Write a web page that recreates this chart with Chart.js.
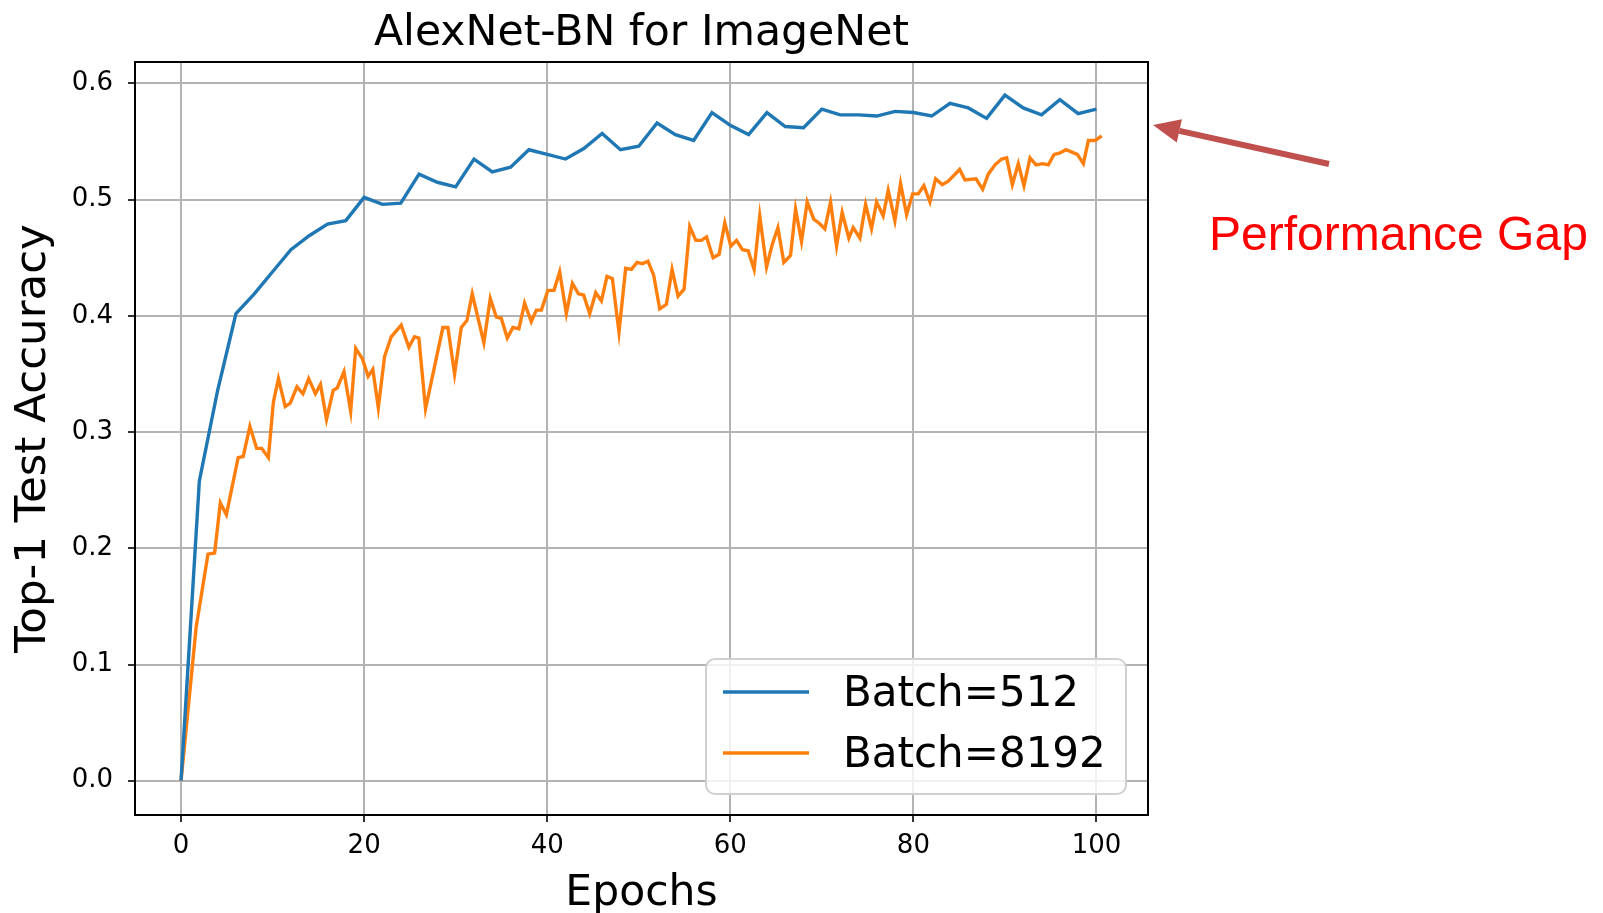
<!DOCTYPE html>
<html>
<head>
<meta charset="utf-8">
<title>AlexNet-BN for ImageNet</title>
<script src="https://cdn.jsdelivr.net/npm/chart.js@4.4.1/dist/chart.umd.min.js"></script>
<style>
  html, body { margin: 0; padding: 0; background: #ffffff; }
  #wrap { width: 1603px; height: 913px; position: relative; }
</style>
</head>
<body>
<div id="wrap"><canvas id="chart" width="1603" height="913"></canvas></div>
<script>
// Top-1 test accuracy, Batch=512 (evaluated every 2 epochs)
const blueEpochs = [0, 2, 4, 6, 8, 10, 12, 14, 16, 18,
  20, 22, 24, 26, 28, 30, 32, 34, 36, 38,
  40, 42, 44, 46, 48, 50, 52, 54, 56, 58,
  60, 62, 64, 66, 68, 70, 72, 74, 76, 78,
  80, 82, 84, 86, 88, 90, 92, 94, 96, 98, 100];
const blueAcc = [0.000, 0.258, 0.336, 0.402, 0.419, 0.438, 0.457, 0.469, 0.479, 0.482,
  0.502, 0.496, 0.497, 0.522, 0.515, 0.511, 0.535, 0.524, 0.528, 0.543,
  0.539, 0.535, 0.544, 0.557, 0.543, 0.546, 0.566, 0.556, 0.551, 0.575,
  0.564, 0.556, 0.575, 0.563, 0.562, 0.578, 0.573, 0.573, 0.572, 0.576,
  0.575, 0.572, 0.583, 0.579, 0.570, 0.590, 0.579, 0.573, 0.586, 0.574, 0.578];

// Top-1 test accuracy, Batch=8192
const orangeEpochs = [0, 1.65, 2.94, 3.67, 4.29, 4.95, 6.24, 6.79, 7.52, 8.26,
  8.81, 9.54, 10.09, 10.64, 11.38, 11.93, 12.66, 13.32, 13.94, 14.68,
  15.23, 15.89, 16.62, 17.06, 17.8, 18.53, 19.08, 19.82, 20.44, 20.95,
  21.55, 22.23, 22.96, 24.05, 24.89, 25.5, 25.98, 26.71, 28.6, 29.15,
  29.88, 30.61, 31.23, 31.81, 33.08, 33.78, 34.44, 34.98, 35.64, 36.25,
  36.91, 37.53, 38.26, 38.81, 39.36, 40.08, 40.74, 41.36, 42.09, 42.75,
  43.42, 43.98, 44.64, 45.3, 45.92, 46.53, 47.12, 47.84, 48.57, 49.2,
  49.81, 50.4, 51.01, 51.63, 52.29, 53.02, 53.64, 54.29, 54.95, 55.57,
  56.23, 56.85, 57.4, 58.12, 58.78, 59.4, 60.06, 60.68, 61.33, 61.95,
  62.6, 63.22, 63.96, 64.6, 65.2, 65.85, 66.58, 67.13, 67.78, 68.4,
  69.13, 69.68, 70.33, 70.95, 71.61, 72.22, 72.95, 73.42, 74.16, 74.78,
  75.43, 75.98, 76.7, 77.25, 77.98, 78.6, 79.26, 79.92, 80.53, 81.15,
  81.81, 82.43, 83.16, 83.81, 85.05, 85.64, 86.84, 87.57, 88.18, 88.92,
  89.65, 90.19, 90.81, 91.46, 92.08, 92.74, 93.4, 94.13, 94.74, 95.37,
  95.95, 96.68, 97.3, 97.91, 98.57, 99.12, 99.85, 100.58];
const orangeAcc = [0.000, 0.132, 0.195, 0.196, 0.239, 0.229, 0.278, 0.279, 0.305, 0.286,
  0.286, 0.278, 0.326, 0.346, 0.322, 0.325, 0.339, 0.333, 0.346, 0.333,
  0.341, 0.311, 0.336, 0.338, 0.352, 0.318, 0.372, 0.363, 0.348, 0.354,
  0.321, 0.365, 0.382, 0.392, 0.373, 0.382, 0.381, 0.320, 0.390, 0.390,
  0.350, 0.390, 0.396, 0.419, 0.377, 0.415, 0.399, 0.398, 0.381, 0.390,
  0.389, 0.411, 0.395, 0.405, 0.405, 0.422, 0.422, 0.438, 0.402, 0.428,
  0.419, 0.418, 0.402, 0.420, 0.413, 0.434, 0.432, 0.386, 0.441, 0.440,
  0.446, 0.445, 0.447, 0.435, 0.406, 0.410, 0.440, 0.417, 0.423, 0.477,
  0.465, 0.465, 0.468, 0.450, 0.453, 0.480, 0.460, 0.465, 0.457, 0.456,
  0.440, 0.486, 0.442, 0.462, 0.476, 0.446, 0.452, 0.492, 0.464, 0.498,
  0.483, 0.480, 0.475, 0.498, 0.460, 0.489, 0.467, 0.476, 0.467, 0.496,
  0.475, 0.498, 0.486, 0.508, 0.482, 0.514, 0.487, 0.505, 0.505, 0.512,
  0.498, 0.518, 0.513, 0.516, 0.526, 0.517, 0.518, 0.509, 0.522, 0.530,
  0.535, 0.536, 0.513, 0.531, 0.512, 0.536, 0.530, 0.531, 0.530, 0.539,
  0.540, 0.543, 0.541, 0.539, 0.531, 0.551, 0.551, 0.555];

const seriesLabels = ['Batch=512', 'Batch=8192'];
const xTicks = [0, 20, 40, 60, 80, 100];
const yTicks = [0.0, 0.1, 0.2, 0.3, 0.4, 0.5, 0.6];
const chartTitle = 'AlexNet-BN for ImageNet';
const xTitle = 'Epochs';
const yTitle = 'Top-1 Test Accuracy';
const noteText = 'Performance Gap';

const BLUE = '#1f77b4';
const ORANGE = '#ff7f0e';
const GRID = '#b3b3b3';
const FONT = '"DejaVu Sans", sans-serif';

function toPoints(xs, ys) {
  return xs.map((x, i) => ({ x: x, y: ys[i] }));
}

// Frame, legend box, title and the red call-out drawn on top of the plot
const decorations = {
  id: 'decorations',
  afterDraw(chart) {
    const ctx = chart.ctx;
    const a = chart.chartArea;
    ctx.save();

    // top and right spines
    ctx.strokeStyle = '#000';
    ctx.lineWidth = 2;
    ctx.beginPath();
    ctx.moveTo(a.left, a.top);
    ctx.lineTo(a.right, a.top);
    ctx.lineTo(a.right, a.bottom);
    ctx.stroke();

    // title, centred over the plot area
    ctx.fillStyle = '#000';
    ctx.font = '42.6px ' + FONT;
    ctx.textAlign = 'center';
    ctx.textBaseline = 'alphabetic';
    ctx.fillText(chartTitle, (a.left + a.right) / 2, 45);

    // legend in the lower right corner of the axes
    const bw = 420, bh = 135;
    const bx = a.right - 22 - bw, by = a.bottom - 21 - bh;
    ctx.beginPath();
    ctx.roundRect(bx, by, bw, bh, 9);
    ctx.fillStyle = 'rgba(255,255,255,0.8)';
    ctx.fill();
    ctx.strokeStyle = '#d0d0d0';
    ctx.lineWidth = 2;
    ctx.stroke();
    chart.data.datasets.forEach((ds, i) => {
      const ly = by + 33 + i * 61;
      ctx.strokeStyle = ds.borderColor;
      ctx.lineWidth = 3.4;
      ctx.beginPath();
      ctx.moveTo(bx + 17, ly);
      ctx.lineTo(bx + 103, ly);
      ctx.stroke();
      ctx.fillStyle = '#000';
      ctx.font = '42px ' + FONT;
      ctx.textAlign = 'left';
      ctx.textBaseline = 'alphabetic';
      ctx.fillText(ds.label, bx + 137, ly + 14);
    });

    // call-out arrow pointing at the gap between the two curves
    const tail = { x: 1329, y: 164 };
    const tip = { x: a.right + 5, y: 125 };
    const ang = Math.atan2(tip.y - tail.y, tip.x - tail.x);
    const headLen = 27, headHalf = 12;
    const baseX = tip.x - headLen * Math.cos(ang);
    const baseY = tip.y - headLen * Math.sin(ang);
    ctx.strokeStyle = '#c0504d';
    ctx.fillStyle = '#c0504d';
    ctx.lineWidth = 6;
    ctx.beginPath();
    ctx.moveTo(tail.x, tail.y);
    ctx.lineTo(baseX, baseY);
    ctx.stroke();
    ctx.beginPath();
    ctx.moveTo(tip.x, tip.y);
    ctx.lineTo(baseX + headHalf * Math.sin(ang), baseY - headHalf * Math.cos(ang));
    ctx.lineTo(baseX - headHalf * Math.sin(ang), baseY + headHalf * Math.cos(ang));
    ctx.closePath();
    ctx.fill();

    ctx.fillStyle = '#ff0000';
    ctx.font = '48px "Liberation Sans", Arial, sans-serif';
    ctx.textAlign = 'left';
    ctx.fillText(noteText, 1209, 250);

    ctx.restore();
  }
};

new Chart(document.getElementById('chart'), {
  type: 'line',
  data: {
    datasets: [
      {
        label: seriesLabels[0],
        data: toPoints(blueEpochs, blueAcc),
        borderColor: BLUE,
        backgroundColor: BLUE,
        borderWidth: 3.4,
        pointRadius: 0,
        tension: 0,
        fill: false
      },
      {
        label: seriesLabels[1],
        data: toPoints(orangeEpochs, orangeAcc),
        borderColor: ORANGE,
        backgroundColor: ORANGE,
        borderWidth: 3.4,
        pointRadius: 0,
        tension: 0,
        fill: false
      }
    ]
  },
  options: {
    responsive: false,
    animation: false,
    events: [],
    layout: { padding: { left: 0, top: 62, right: 455, bottom: 0 } },
    plugins: {
      legend: { display: false },
      title: { display: false },
      tooltip: { enabled: false }
    },
    scales: {
      x: {
        type: 'linear',
        position: 'bottom',
        min: -5.03,
        max: 105.63,
        afterBuildTicks: s => { s.ticks = xTicks.map(v => ({ value: v })); },
        afterFit: s => { s.height = 98; },
        ticks: {
          color: '#000',
          font: { family: FONT, size: 26 },
          padding: 9,
          maxRotation: 0,
          callback: v => String(v)
        },
        grid: {
          color: GRID,
          lineWidth: 2,
          drawTicks: true,
          tickLength: 7,
          tickColor: '#000',
          tickWidth: 1.6
        },
        border: { display: true, color: '#000', width: 2 },
        title: {
          display: true,
          text: xTitle,
          color: '#000',
          font: { family: FONT, size: 42.5, lineHeight: 1 },
          padding: { top: 0, bottom: -2 }
        }
      },
      y: {
        type: 'linear',
        position: 'left',
        min: -0.0295,
        max: 0.6185,
        afterBuildTicks: s => { s.ticks = yTicks.map(v => ({ value: v })); },
        afterFit: s => { s.width = 135; },
        ticks: {
          color: '#000',
          font: { family: FONT, size: 26 },
          padding: 15,
          callback: v => Number(v).toFixed(1)
        },
        grid: {
          color: GRID,
          lineWidth: 2,
          drawTicks: true,
          tickLength: 7,
          tickColor: '#000',
          tickWidth: 1.6
        },
        border: { display: true, color: '#000', width: 2 },
        title: {
          display: true,
          text: yTitle,
          color: '#000',
          font: { family: FONT, size: 43.5, lineHeight: 1 },
          padding: { top: 12, bottom: 0 }
        }
      }
    }
  },
  plugins: [decorations]
});
</script>
</body>
</html>
